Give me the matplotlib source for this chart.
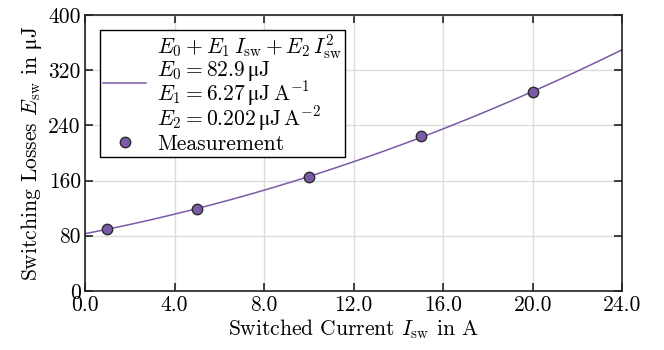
import matplotlib
matplotlib.use('Agg')
import matplotlib.pyplot as plt
import numpy as np

# fit parameters shown in the legend
E0 = 82.9
E1 = 6.27
E2 = 0.202

# measured points
i_meas = [1, 5, 10, 15, 20]
e_meas = [89.5, 119.0, 165.0, 224.0, 288.0]

x_ticks = [0, 4, 8, 12, 16, 20, 24]
y_ticks = [0, 80, 160, 240, 320, 400]

plt.rcParams['font.family'] = ['cmr10', 'DejaVu Serif']
plt.rcParams['mathtext.fontset'] = 'cm'
plt.rcParams['axes.formatter.use_mathtext'] = True
plt.rcParams['axes.unicode_minus'] = False
plt.rcParams['font.size'] = 15.5

purple = '#7b5aa6'
mu = '\u03bc'

fig = plt.figure(figsize=(6.64, 3.5), dpi=100)
ax = fig.add_axes([0.128, 0.169, 0.809, 0.788])

i_fit = np.linspace(0, 24, 200)
e_fit = E0 + E1 * i_fit + E2 * i_fit ** 2

label_fit = ('$E_0 + E_1\\,I_{\\mathrm{sw}} + E_2\\,I_{\\mathrm{sw}}^2$\n'
             '$E_0 = 82.9\\,\\mathrm{' + mu + 'J}$\n'
             '$E_1 = 6.27\\,\\mathrm{' + mu + 'J}\\,\\mathrm{A}^{-1}$\n'
             '$E_2 = 0.202\\,\\mathrm{' + mu + 'J}\\,\\mathrm{A}^{-2}$')
ax.plot(i_fit, e_fit, color=purple, lw=1.1, label=label_fit, zorder=2)
ax.plot(i_meas, e_meas, 'o', ms=7.5, mfc=purple, mec='#2b2b2b', mew=1.0,
        label='Measurement', zorder=3)

ax.set_xlim(0, 24)
ax.set_ylim(0, 400)
ax.set_xticks(x_ticks)
ax.set_xticklabels([f'{v:.1f}' for v in x_ticks])
ax.set_yticks(y_ticks)
ax.set_yticklabels([str(v) for v in y_ticks])
ax.grid(True, color='#dcdcdc', lw=1.0, zorder=0)
ax.set_axisbelow(True)
ax.tick_params(direction='in', top=True, right=True, length=6, width=1.2,
               colors='#222222', labelcolor='black', pad=3)
for s in ax.spines.values():
    s.set_linewidth(1.2)
    s.set_color('#222222')

ax.set_xlabel('Switched Current $I_{\\mathrm{sw}}$ in A', labelpad=2)
ax.set_ylabel('Switching Losses $E_{\\mathrm{sw}}$ in $\\mathrm{' + mu + 'J}$', labelpad=3)

leg = ax.legend(loc='upper left', bbox_to_anchor=(0.028, 0.946), fancybox=False,
                edgecolor='black', framealpha=1, borderpad=0.15, labelspacing=0.05,
                handlelength=2.0, handletextpad=0.5, borderaxespad=0)
leg.get_frame().set_linewidth(1.0)
leg.get_texts()[0].set_linespacing(0.82)

fig.savefig('out.png', dpi=100)
